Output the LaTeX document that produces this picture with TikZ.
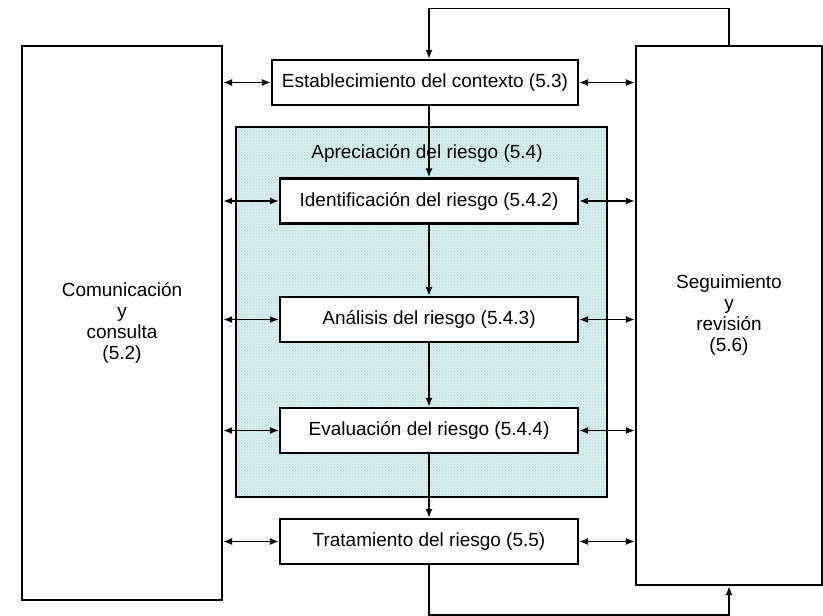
\documentclass[tikz,border=0pt]{standalone}
\usepackage{fontspec}
\setmainfont{Liberation Sans}
\usetikzlibrary{arrows.meta,patterns}
\definecolor{fondo}{RGB}{218,238,240}
\definecolor{puntos}{RGB}{170,212,218}
\tikzset{
    lado/.style={draw, line width=2.2pt, fill=white, align=center, inner sep=0pt},
    paso/.style={draw, line width=2.2pt, fill=white, inner sep=0pt,
        minimum width=298pt, minimum height=45pt},
    marco/.style={draw, line width=2.2pt, inner sep=0pt,
        preaction={fill=fondo}, pattern=crosshatch dots, pattern color=puntos},
    flecha/.style={line width=1.6pt, -{Latex[length=9pt,width=7pt]}},
    doble/.style={line width=1.6pt, {Latex[length=9pt,width=7pt]}-{Latex[length=9pt,width=7pt]}}
}
\begin{document}
\begin{tikzpicture}[x=1pt, y=-1pt, font=\fontsize{19}{21}\selectfont]
    \useasboundingbox (0,0) rectangle (823,616);
    % columnas de los lados
    \node[lado, minimum width=200pt, minimum height=554pt] (com) at (122,323)
        {Comunicación\\y\\consulta\\(5.2)};
    \node[lado, minimum width=186pt, minimum height=539pt] (seg) at (729,315.5)
        {Seguimiento\\y\\revisión\\(5.6)};
    % bloque de apreciacion
    \node[marco, minimum width=371pt, minimum height=370pt] (apr) at (421.5,312) {};
    \node (aprtit) at (427,153) {Apreciación del riesgo (5.4)};
    % pasos
    \node[paso, minimum width=306pt] (est) at (425,82.5) {Establecimiento del contexto (5.3)};
    \node[paso] (ide) at (429,201) {Identificación del riesgo (5.4.2)};
    \node[paso] (ana) at (429,319.5) {Análisis del riesgo (5.4.3)};
    \node[paso] (eva) at (429,430.5) {Evaluación del riesgo (5.4.4)};
    \node[paso] (tra) at (429,541.5) {Tratamiento del riesgo (5.5)};
    \coordinate (cima) at (0,8.5);
    \coordinate (pie) at (0,615);
    % flujo central
    \draw[flecha] (est.south -| ide) -- (ide.north);
    \draw[flecha] (ide.south) -- (ana.north);
    \draw[flecha] (ana.south) -- (eva.north);
    \draw[flecha] (eva.south) -- (tra.north);
    \draw[flecha] (seg.north) -- (seg.north |- cima) -| (est.north -| ide);
    \draw[flecha] (tra.south) -- (tra.south |- pie) -| (seg.south);
    % comunicacion
    \draw[doble] (com.east |- est) -- (est.west);
    \draw[doble] (com.east |- ide) -- (ide.west);
    \draw[doble] (com.east |- ana) -- (ana.west);
    \draw[doble] (com.east |- eva) -- (eva.west);
    \draw[doble] (com.east |- tra) -- (tra.west);
    % seguimiento
    \draw[doble] (est.east) -- (seg.west |- est);
    \draw[doble] (ide.east) -- (seg.west |- ide);
    \draw[doble] (ana.east) -- (seg.west |- ana);
    \draw[doble] (eva.east) -- (seg.west |- eva);
    \draw[doble] (tra.east) -- (seg.west |- tra);
\end{tikzpicture}
\end{document}
